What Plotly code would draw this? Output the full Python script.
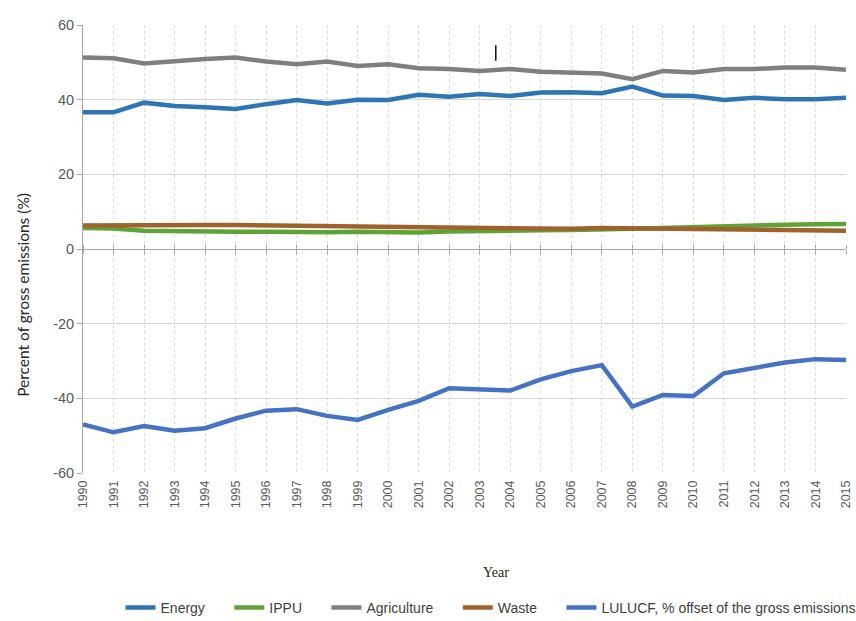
import plotly.graph_objects as go

years = list(range(1990, 2016))

energy = [36.6, 36.6, 39.2, 38.3, 38.0, 37.5, 38.8, 39.9, 39.0, 40.0, 39.9, 41.3,
          40.8, 41.5, 41.0, 41.9, 42.0, 41.7, 43.5, 41.1, 41.0, 39.9, 40.5, 40.1,
          40.1, 40.5]
ippu = [5.6, 5.5, 4.9, 4.7, 4.5, 4.6, 4.6, 4.4, 4.5, 4.6, 4.5, 4.4,
        4.7, 4.9, 5.0, 5.0, 5.1, 5.4, 5.4, 5.6, 5.9, 6.2, 6.3, 6.5,
        6.6, 6.7]
agriculture = [51.3, 51.1, 49.7, 50.4, 50.9, 51.3, 50.2, 49.5, 50.2, 49.0, 49.5, 48.4,
               48.2, 47.7, 48.2, 47.5, 47.3, 47.0, 45.5, 47.7, 47.3, 48.2, 48.2, 48.6,
               48.6, 48.0]
waste = [6.3, 6.4, 6.4, 6.5, 6.4, 6.4, 6.3, 6.2, 6.3, 6.2, 6.0, 5.9,
         5.8, 5.7, 5.6, 5.5, 5.4, 5.6, 5.5, 5.5, 5.5, 5.4, 5.2, 5.1,
         5.0, 4.9]
lulucf = [-47.0, -49.1, -47.4, -48.7, -48.0, -45.4, -43.3, -42.9, -44.7, -45.8, -43.1, -40.7,
          -37.3, -37.6, -37.9, -34.9, -32.7, -31.1, -42.2, -39.1, -39.4, -33.3, -31.7, -30.4,
          -29.5, -29.7]

y_ticks = [-60, -40, -20, 0, 20, 40, 60]
y_tick_text = ["-60", "-40", "-20", "0", "20", "40", "60"]

series = [
    ("Energy", energy, "#2E75B6"),
    ("IPPU", ippu, "#5EA335"),
    ("Agriculture", agriculture, "#7F7F7F"),
    ("Waste", waste, "#A0622D"),
    ("LULUCF, % offset of the gross emissions", lulucf, "#4472C4"),
]

# extra spacing after each legend entry except the last
legend_pad = "\u00a0" * 5

fig = go.Figure()
for i, (name, vals, color) in enumerate(series):
    label = name if i == len(series) - 1 else name + legend_pad
    fig.add_trace(go.Scatter(x=years, y=vals, name=label, mode="lines",
                             line=dict(color=color, width=4.5)))

# empty helpers so the overlay axes carrying the zero-line ticks are drawn
fig.add_trace(go.Scatter(x=[None], y=[None], xaxis="x2", showlegend=False, hoverinfo="skip"))
fig.add_trace(go.Scatter(x=[None], y=[None], xaxis="x3", showlegend=False, hoverinfo="skip"))

fig.update_layout(
    width=856, height=621,
    margin=dict(l=82.5, r=9.5, t=25, b=148, autoexpand=False),
    plot_bgcolor="white", paper_bgcolor="white",
    showlegend=True,
    legend=dict(orientation="h", xref="container", yref="container",
                x=0.5736, xanchor="center", y=0.021, yanchor="middle",
                font=dict(family="Liberation Sans, Arial", size=14, color="#404040"),
                itemwidth=30, tracegroupgap=0, bgcolor="rgba(0,0,0,0)"),
    xaxis=dict(range=[1990, 2015], tickmode="array", tickvals=years,
               ticktext=[str(y) for y in years], tickangle=-90,
               tickfont=dict(family="Liberation Sans, Arial", size=12.5, color="#595959"),
               ticklabelstandoff=4,
               showgrid=True, gridcolor="#D9D9D9", griddash="3px,3px", gridwidth=1,
               showline=False, ticks="",
               zeroline=False, automargin=False),
    yaxis=dict(range=[-60, 60], tickmode="array", tickvals=y_ticks, ticktext=y_tick_text,
               tickfont=dict(family="Liberation Sans, Arial", size=14.5, color="#595959"),
               showgrid=True, gridcolor="#D9D9D9", gridwidth=1,
               showline=True, linecolor="#A6A6A6", linewidth=1,
               ticks="outside", ticklen=5, tickcolor="#A6A6A6",
               zeroline=True, zerolinecolor="#A6A6A6", zerolinewidth=1,
               automargin=False),
    xaxis2=dict(overlaying="x", anchor="free", position=0.5, side="bottom",
                range=[1990, 2015], tickmode="array", tickvals=years, showticklabels=False,
                ticks="outside", ticklen=4, tickcolor="#A6A6A6", showgrid=False,
                showline=False, zeroline=False, automargin=False),
    xaxis3=dict(overlaying="x", anchor="free", position=0.5, side="top",
                range=[1990, 2015], tickmode="array", tickvals=years, showticklabels=False,
                ticks="outside", ticklen=4, tickcolor="#A6A6A6", showgrid=False,
                showline=False, zeroline=False, automargin=False),
)

fig.add_annotation(text="Percent of gross emissions (%)", textangle=-90,
                   xref="paper", yref="paper", x=-0.079, y=0.397,
                   xanchor="center", yanchor="middle", showarrow=False,
                   font=dict(family="Lato, Open Sans", size=15.5, color="#262626"))
fig.add_annotation(text="Year", xref="paper", yref="paper", x=0.541, y=-0.221,
                   xanchor="center", yanchor="middle", showarrow=False,
                   font=dict(family="Liberation Serif, Times New Roman", size=14, color="#222222"))

# small vertical stroke near the top of the plot
fig.add_shape(type="line", xref="paper", yref="paper",
              x0=0.541, x1=0.541, y0=0.955, y1=0.92,
              line=dict(color="#111111", width=1.5))

fig.write_html("out.html")
